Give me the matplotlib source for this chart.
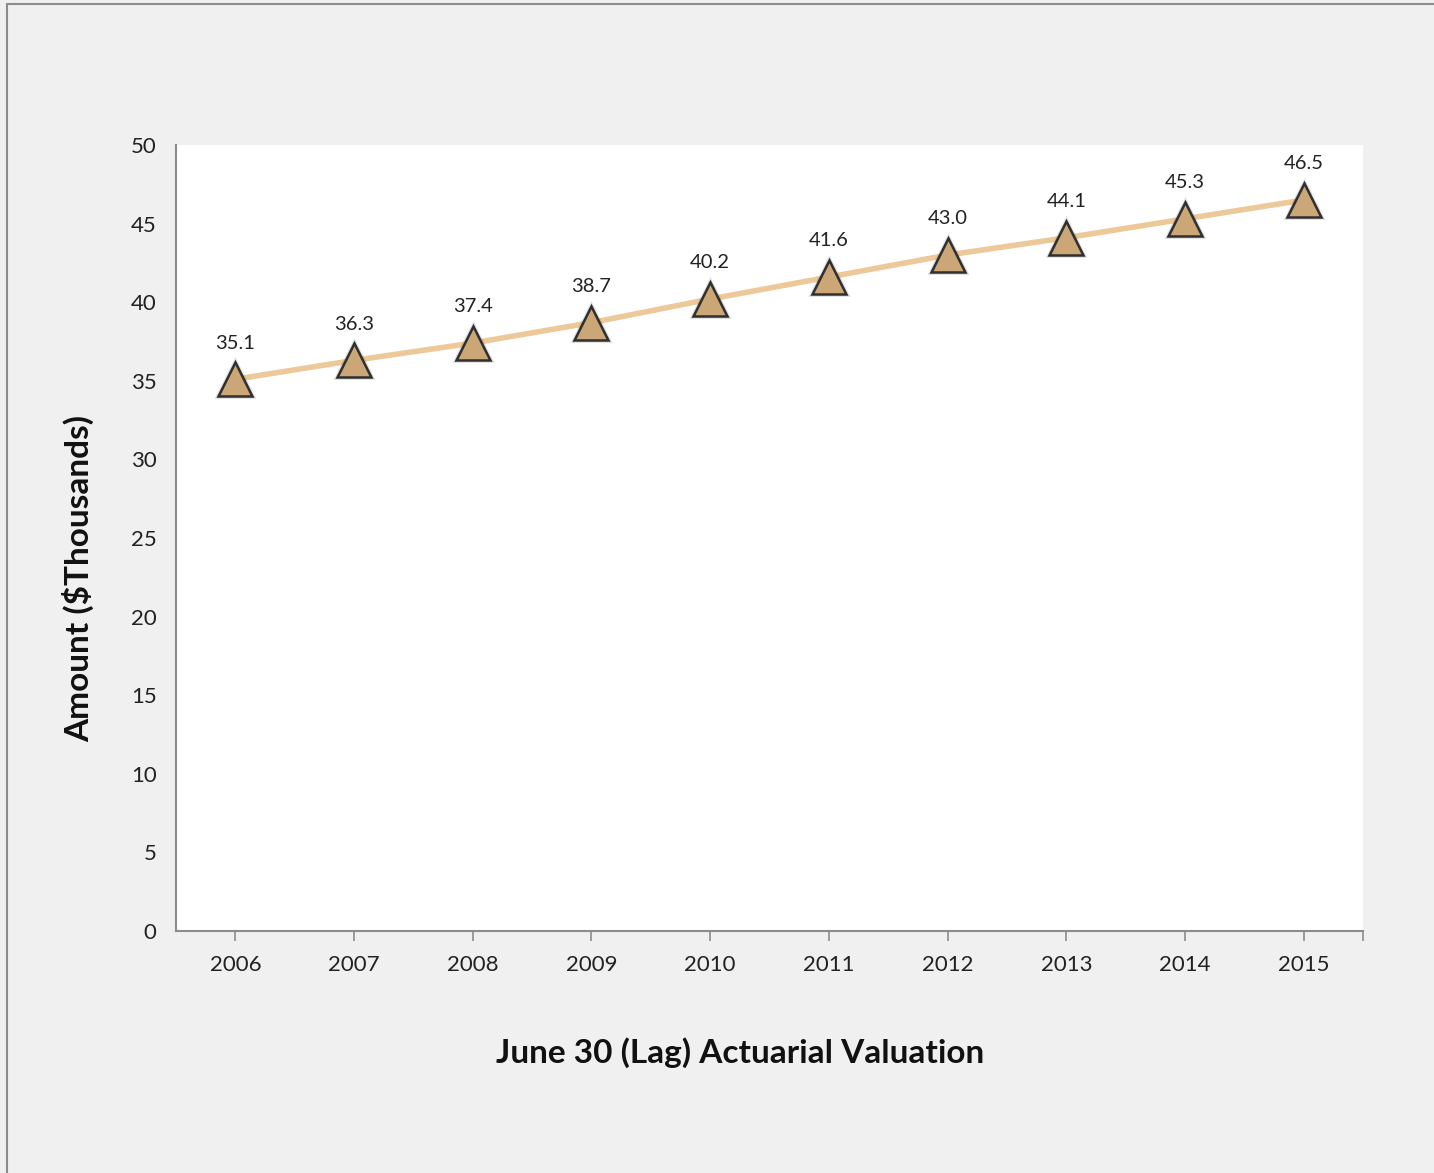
import matplotlib
matplotlib.use("Agg")
import matplotlib.pyplot as plt
from matplotlib.patches import Rectangle

years = ["2006", "2007", "2008", "2009", "2010", "2011", "2012", "2013", "2014", "2015"]
amounts = [35.1, 36.3, 37.4, 38.7, 40.2, 41.6, 43.0, 44.1, 45.3, 46.5]
y_ticks = [0, 5, 10, 15, 20, 25, 30, 35, 40, 45, 50]

plt.rcParams["font.family"] = ["Lato", "DejaVu Sans"]

W, H = 1434, 1173
fig = plt.figure(figsize=(W / 100, H / 100), dpi=100)
fig.patch.set_facecolor("#f0f0f0")

# thin outer frame
fig.patches.append(Rectangle((7 / W, -0.01), 1.02, 1 - 4 / H + 0.01,
                             transform=fig.transFigure, fill=False,
                             edgecolor="#8c8c8c", linewidth=1.5))

ax = fig.add_axes([176 / W, 1 - 931 / H, (1363 - 176) / W, (931 - 145) / H])
ax.set_facecolor("white")

x = list(range(len(years)))
ax.plot(x, amounts, color="#edc99a", linewidth=4, zorder=2)
# soft drop shadow under the markers
ax.plot(x, amounts, linestyle="none", marker="^", markersize=25,
        markerfacecolor="none", markeredgecolor="#000000", alpha=0.12,
        markeredgewidth=3.5, zorder=2.5)
ax.plot(x, amounts, linestyle="none", marker="^", markersize=24,
        markerfacecolor="#cba676", markeredgecolor="#2f2f2f",
        markeredgewidth=1.8, zorder=3)

for xi, v in zip(x, amounts):
    ax.annotate(f"{v:.1f}", (xi, v), xytext=(0, 26), textcoords="offset points",
                ha="center", va="center", fontsize=14.5, color="#222222")

ax.set_xlim(-0.5, len(years) - 0.5)
ax.set_ylim(0, 50)
ax.set_yticks(y_ticks)
ax.set_xticks(x)
ax.set_xticklabels(years)
ax.set_xticks([len(years) - 0.5], minor=True)

for side in ("top", "right"):
    ax.spines[side].set_visible(False)
for side in ("left", "bottom"):
    ax.spines[side].set_color("#8c8c8c")
    ax.spines[side].set_linewidth(1.5)

ax.tick_params(axis="y", length=0, pad=14, labelsize=16, labelcolor="#222222")
ax.tick_params(axis="x", which="both", length=7, width=1.2, color="#8c8c8c",
               pad=10, labelsize=16, labelcolor="#222222")

fig.text(740 / W, 1 - 1053 / H, "June 30 (Lag) Actuarial Valuation",
         ha="center", va="center", fontsize=24, fontweight="bold", color="#111111")
fig.text(78 / W, 1 - 578 / H, "Amount ($Thousands)", rotation=90,
         ha="center", va="center", fontsize=24, fontweight="bold", color="#111111")

fig.savefig("out.png", dpi=100, facecolor=fig.get_facecolor())
